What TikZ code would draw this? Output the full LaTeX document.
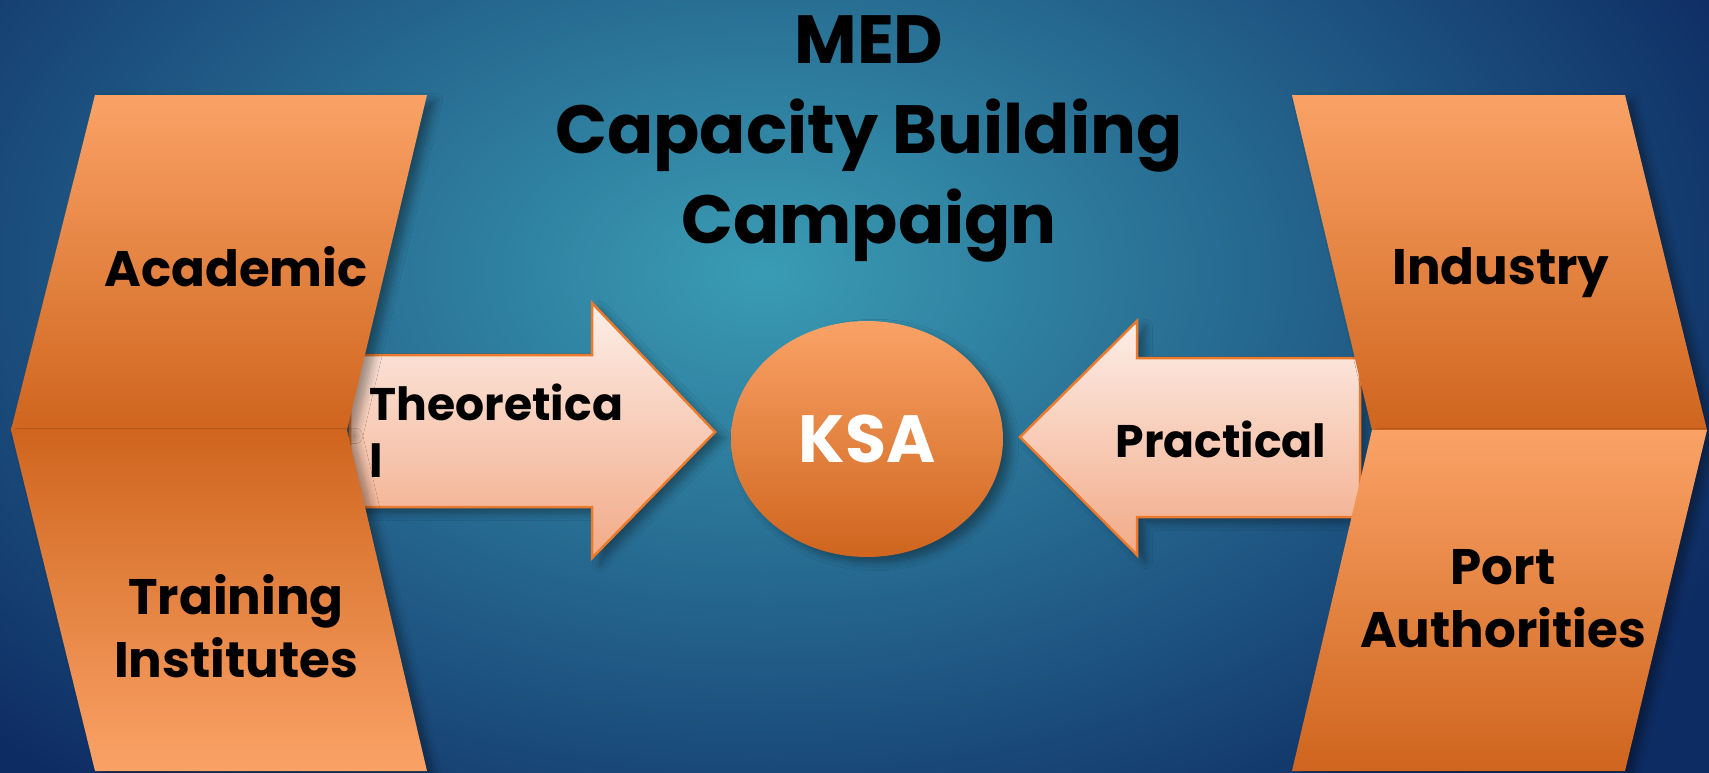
\documentclass[tikz,border=0pt]{standalone}
\usepackage{fontspec}
\setmainfont{Poppins}
\usetikzlibrary{shapes.geometric,shadows.blur}

\definecolor{bgteal}{RGB}{58,156,180}
\definecolor{bgnavy}{RGB}{14,44,100}
\definecolor{orlight}{RGB}{250,162,102}
\definecolor{ordark}{RGB}{207,101,30}
\definecolor{arlight}{RGB}{253,238,232}
\definecolor{ardark}{RGB}{242,170,135}
\definecolor{arline}{RGB}{236,122,45}

\tikzset{
  piece/.style={blur shadow={shadow xshift=.8mm,shadow yshift=-.6mm,shadow blur steps=6,shadow opacity=35}},
  lighttop/.style={piece,top color=orlight,bottom color=ordark},
  darktop/.style={piece,top color=ordark,bottom color=orlight},
  blockarrow/.style={piece,draw=arline,line width=.25mm,top color=arlight,bottom color=ardark},
  boxtext/.style={font=\fontsize{14.2}{17.9}\selectfont\bfseries,align=center,anchor=base},
  arrowtext/.style={font=\fontsize{13}{16.2}\selectfont\bfseries},
}

\begin{document}
\begin{tikzpicture}[x=0.1mm,y=-0.1mm]
\useasboundingbox (0,0) rectangle (1709,773);

% Sfondo
\fill[bgnavy] (0,0) rectangle (1709,773);
\begin{scope}
  \clip (0,0) rectangle (1709,773);
  \shade[inner color=bgteal,outer color=bgnavy] (-300,-400) rectangle (1826,944);
\end{scope}

% Frecce
\path[blockarrow] (350,355) -- (592,355) -- (592,303) -- (715,432)
  -- (592,558) -- (592,507) -- (350,507) -- cycle; % theoretical
\path[blockarrow] (1360,358) -- (1137,358) -- (1137,321) -- (1020,437)
  -- (1137,555) -- (1137,517) -- (1360,517) -- cycle; % practical

% KSA
\node[ellipse,piece,top color=orlight,bottom color=ordark,
  minimum width=27.2mm,minimum height=23.6mm,text=white,
  font=\fontsize{19}{22}\selectfont\bfseries] (ksa) at (867,439) {KSA};

% Chevron sinistro
\path[lighttop] (95,95) -- (427,95) -- (347,430) -- (11,430) -- cycle;  % academic
\path[darktop] (11,430) -- (347,430) -- (427,771) -- (95,771) -- cycle; % training

% Chevron destro
\path[lighttop] (1292,95) -- (1625,95) -- (1707,430) -- (1372,430) -- cycle;   % industry
\path[lighttop] (1372,430) -- (1707,430) -- (1625,771) -- (1292,771) -- cycle; % port

% Titolo
\node[font=\fontsize{19.4}{25.6}\selectfont\bfseries,align=center,anchor=base]
  (title) at (869,243) {MED\\Capacity Building\\Campaign};

% Etichette
\node[boxtext] (academic) at (236,286) {Academic};
\node[boxtext] (training) at (236,677) {Training\\Institutes};
\node[boxtext] (industry) at (1501,284) {Industry};
\node[boxtext] (port) at (1503,647) {Port\\Authorities};
\node[arrowtext,align=left,anchor=base west,inner sep=0pt] (theo) at (369,477) {Theoretica\\l};
\node[arrowtext,anchor=base] (prac) at (1221,457) {Practical};

\end{tikzpicture}
\end{document}
